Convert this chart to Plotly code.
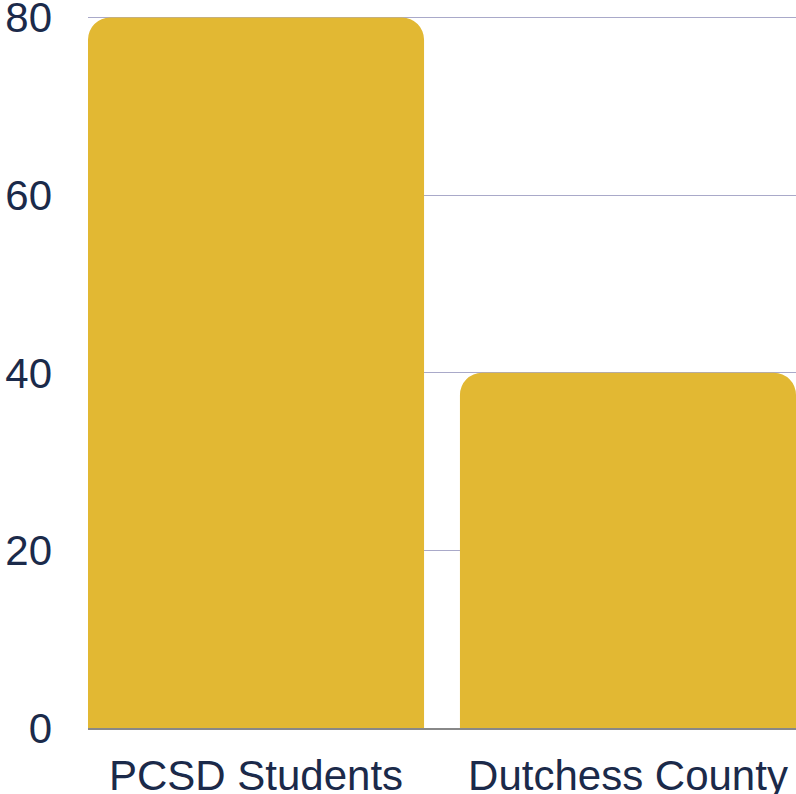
import plotly.graph_objects as go

categories = ["PCSD Students", "Dutchess County"]
values = [80, 40]
y_ticks = [0, 20, 40, 60, 80]

TEXT = "#1B2A4A"
BAR = "#E2B833"
GRID = "#A9A9C9"
GAP = 0.0965

fig = go.Figure(go.Bar(x=categories, y=values, marker=dict(color=BAR, line=dict(width=0))))
fig.update_layout(
    width=796, height=794,
    margin=dict(l=88, r=0, t=16, b=66),
    paper_bgcolor="white", plot_bgcolor="white",
    bargap=GAP, barcornerradius=22,
    font=dict(family="Liberation Sans, Arial, sans-serif", size=42, color=TEXT),
    showlegend=False,
)
fig.update_yaxes(range=[0, 80.18], tickvals=y_ticks, showgrid=True, gridcolor=GRID, gridwidth=1,
                 zeroline=False, showline=False, ticks="", ticklabelstandoff=35, automargin=False,
                 ticklabeloverflow="allow")
fig.update_xaxes(range=[-0.5 + GAP / 2, 1.5 - GAP / 2], showline=True, linecolor="#888888",
                 linewidth=1.5, ticks="", showgrid=False,
                 ticklabelstandoff=10, automargin=False, ticklabeloverflow="allow")
fig.write_html("out.html", config={"displayModeBar": False},
               post_script="document.body.style.margin='0';document.body.style.overflow='hidden';")
